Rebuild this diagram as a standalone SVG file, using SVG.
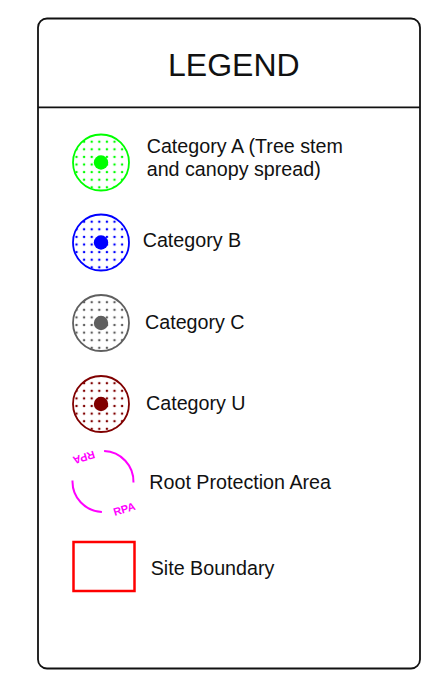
<svg xmlns="http://www.w3.org/2000/svg" width="446" height="674" viewBox="0 0 446 674">
<style>
.lbl{font-family:"Liberation Sans",Arial,sans-serif;font-size:19.7px;fill:#111}
.title{font-family:"Liberation Sans",Arial,sans-serif;font-size:32px;fill:#111}
.rpa{font-family:"Liberation Sans",Arial,sans-serif;font-size:11px;font-weight:bold;fill:#ff00ff}
.ring{stroke-width:1.8}
</style>
<defs>
<pattern id="pA" patternUnits="userSpaceOnUse" x="87.9" y="137.9" width="7.6" height="7.6"><circle cx="3.8" cy="3.8" r="1.25" fill="#00ff00"/></pattern>
<pattern id="pB" patternUnits="userSpaceOnUse" x="87.9" y="217.9" width="7.6" height="7.6"><circle cx="3.8" cy="3.8" r="1.25" fill="#0000ff"/></pattern>
<pattern id="pC" patternUnits="userSpaceOnUse" x="87.9" y="298.4" width="7.6" height="7.6"><circle cx="3.8" cy="3.8" r="1.25" fill="#5f5f5f"/></pattern>
<pattern id="pU" patternUnits="userSpaceOnUse" x="87.9" y="379.4" width="7.6" height="7.6"><circle cx="3.8" cy="3.8" r="1.25" fill="#800000"/></pattern>
</defs>
<g id="frame">
<rect x="38" y="18.5" width="382" height="650" rx="9" ry="9" fill="#fff" stroke="#111" stroke-width="1.8"/>
<line x1="38" y1="107.3" x2="420" y2="107.3" stroke="#111" stroke-width="1.8"/>
<text class="title" x="168" y="76">LEGEND</text>
</g>
<g id="catA">
<circle class="ring" cx="101" cy="162.5" r="28" fill="url(#pA)" stroke="#00ff00"/>
<circle cx="101" cy="162.5" r="7.2" fill="#00ff00"/>
<text class="lbl" x="146.7" y="152.5">Category A (Tree stem</text>
<text class="lbl" x="146.7" y="176">and canopy spread)</text>
</g>
<g id="catB">
<circle class="ring" cx="101" cy="242.5" r="28" fill="url(#pB)" stroke="#0000ff"/>
<circle cx="101" cy="242.5" r="7.2" fill="#0000ff"/>
<text class="lbl" x="142.7" y="246.5">Category B</text>
</g>
<g id="catC">
<circle class="ring" cx="101" cy="323" r="28" fill="url(#pC)" stroke="#5f5f5f"/>
<circle cx="101" cy="323" r="7.2" fill="#5f5f5f"/>
<text class="lbl" x="145" y="328.5">Category C</text>
</g>
<g id="catU">
<circle class="ring" cx="101" cy="404" r="28" fill="url(#pU)" stroke="#800000"/>
<circle cx="101" cy="404" r="7.2" fill="#800000"/>
<text class="lbl" x="146" y="409.5">Category U</text>
</g>
<g id="rpa">
<path d="M104.1 451.02 A30.5 30.5 0 0 1 133.48 482.56" fill="none" stroke="#ff00ff" stroke-width="2"/>
<path d="M72.52 480.44 A30.5 30.5 0 0 0 101.9 511.98" fill="none" stroke="#ff00ff" stroke-width="2"/>
<text class="rpa" text-anchor="middle" transform="translate(124.3 509) rotate(-17)" y="4">RPA</text>
<text class="rpa" text-anchor="middle" transform="translate(84 457.5) rotate(163)" y="4">RPA</text>
<text class="lbl" x="149.3" y="488.5">Root Protection Area</text>
</g>
<g id="site">
<rect x="73.5" y="542" width="61" height="49" fill="none" stroke="#ff0000" stroke-width="2.5"/>
<text class="lbl" x="150.7" y="575">Site Boundary</text>
</g>
<g id="connectors"></g>
</svg>
